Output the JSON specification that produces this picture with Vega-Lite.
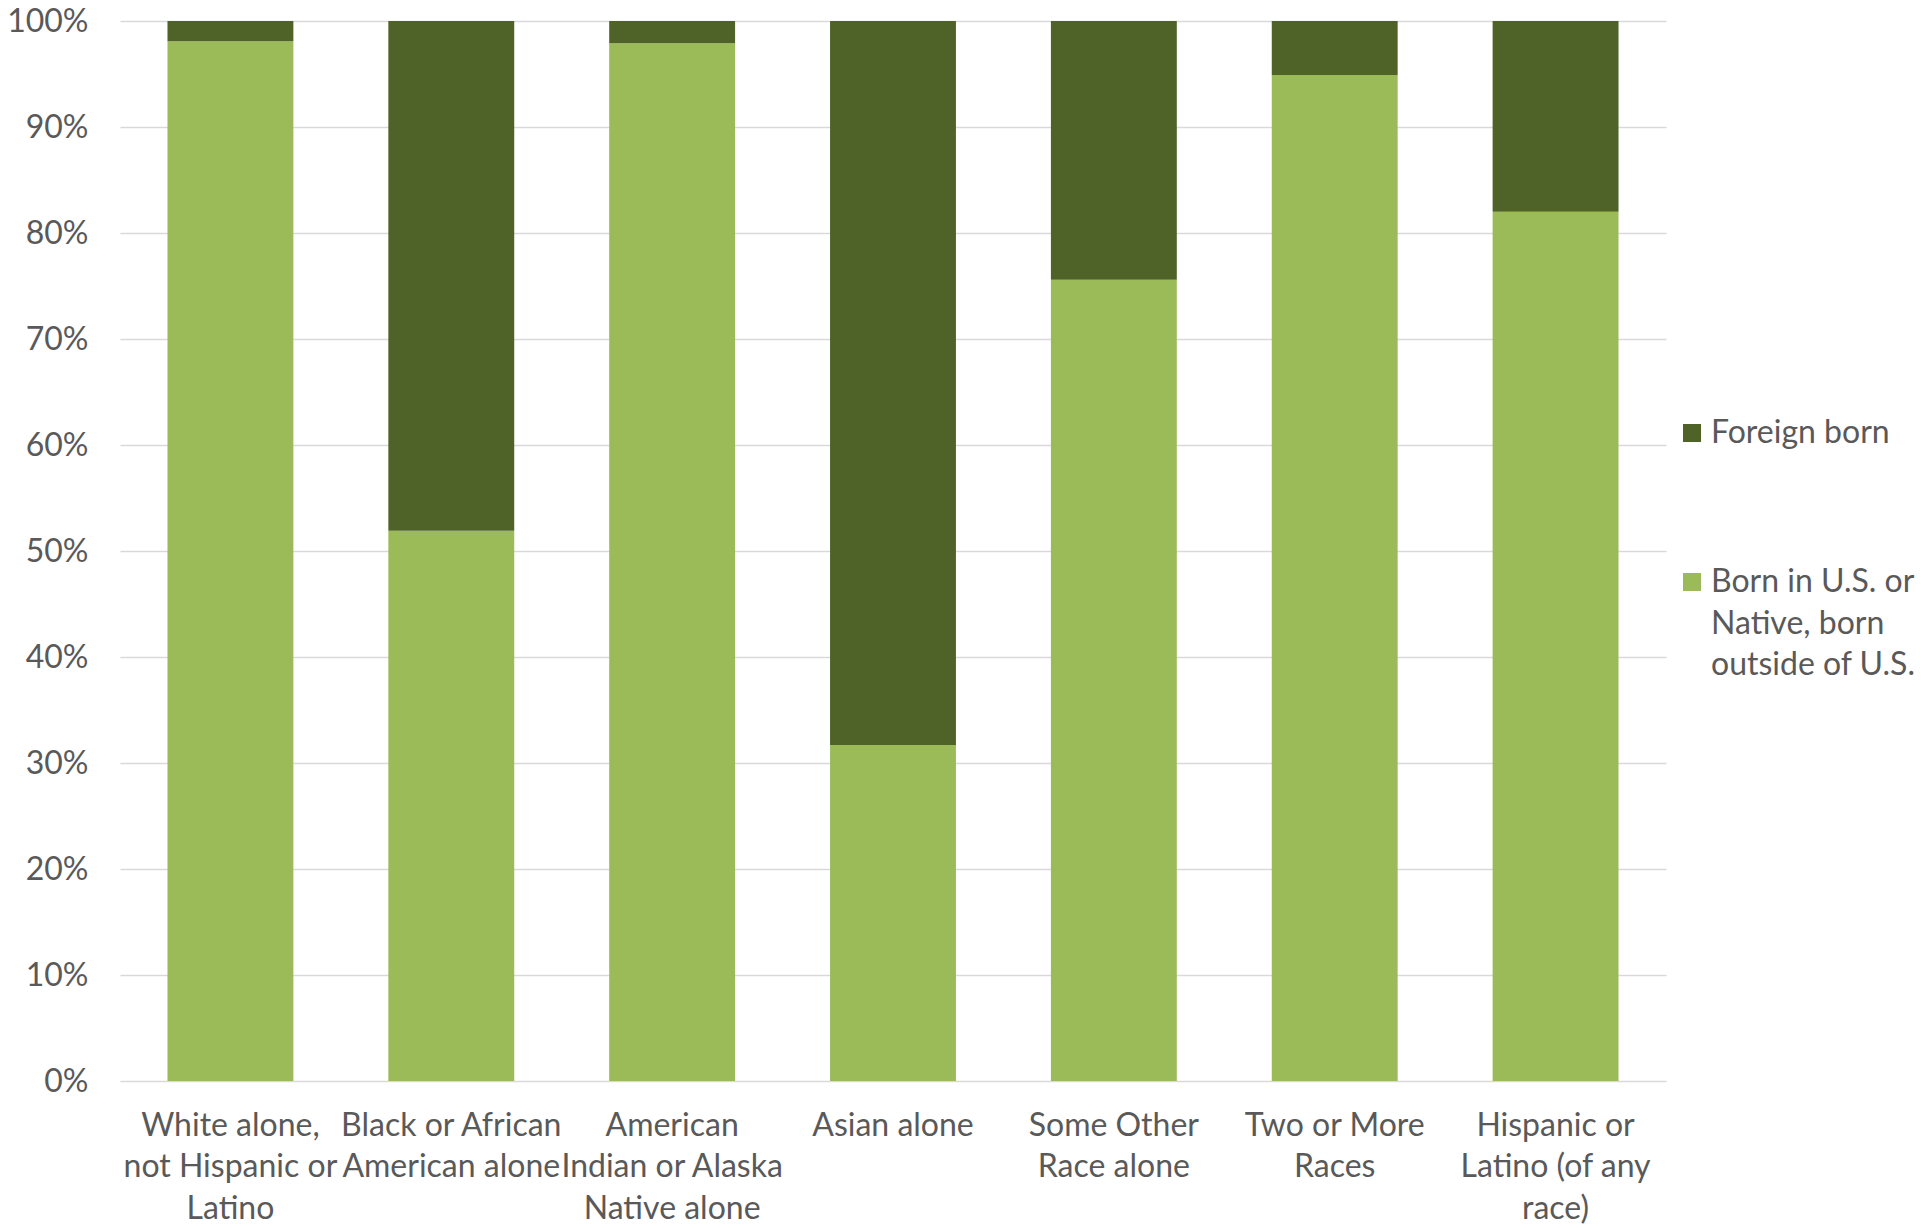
{
  "$schema": "https://vega.github.io/schema/vega-lite/v6.json",
  "width": 1546,
  "height": 1060,
  "autosize": "none",
  "padding": {"left": 120, "top": 21, "right": 255, "bottom": 147},
  "background": "white",
  "data": {
    "values": [
      {"group": "White alone,|not Hispanic or|Latino", "type": "Born in U.S. or Native, born outside of U.S.", "pct": 98.1},
      {"group": "White alone,|not Hispanic or|Latino", "type": "Foreign born", "pct": 1.9},
      {"group": "Black or African|American alone", "type": "Born in U.S. or Native, born outside of U.S.", "pct": 51.9},
      {"group": "Black or African|American alone", "type": "Foreign born", "pct": 48.1},
      {"group": "American|Indian or Alaska|Native alone", "type": "Born in U.S. or Native, born outside of U.S.", "pct": 97.9},
      {"group": "American|Indian or Alaska|Native alone", "type": "Foreign born", "pct": 2.1},
      {"group": "Asian alone", "type": "Born in U.S. or Native, born outside of U.S.", "pct": 31.7},
      {"group": "Asian alone", "type": "Foreign born", "pct": 68.3},
      {"group": "Some Other|Race alone", "type": "Born in U.S. or Native, born outside of U.S.", "pct": 75.6},
      {"group": "Some Other|Race alone", "type": "Foreign born", "pct": 24.4},
      {"group": "Two or More|Races", "type": "Born in U.S. or Native, born outside of U.S.", "pct": 94.9},
      {"group": "Two or More|Races", "type": "Foreign born", "pct": 5.1},
      {"group": "Hispanic or|Latino (of any|race)", "type": "Born in U.S. or Native, born outside of U.S.", "pct": 82.0},
      {"group": "Hispanic or|Latino (of any|race)", "type": "Foreign born", "pct": 18.0}
    ]
  },
  "mark": {"type": "bar"},
  "encoding": {
    "x": {
      "field": "group",
      "type": "nominal",
      "sort": null,
      "scale": {"paddingInner": 0.43, "paddingOuter": 0.215},
      "axis": {
        "title": null,
        "labelAngle": 0,
        "labelExpr": "split(datum.label, '|')",
        "labelFontSize": 32,
        "labelFont": "Lato",
        "labelColor": "#595959",
        "labelLineHeight": 41.6,
        "labelPadding": 29,
        "labelLimit": 0,
        "ticks": false,
        "domain": false,
        "labelBaseline": "top"
      }
    },
    "y": {
      "field": "pct",
      "type": "quantitative",
      "stack": "zero",
      "scale": {"domain": [0, 100], "nice": false},
      "axis": {
        "title": null,
        "values": [0, 10, 20, 30, 40, 50, 60, 70, 80, 90, 100],
        "labelExpr": "datum.value + '%'",
        "labelFontSize": 32,
        "labelFont": "Lato",
        "labelColor": "#595959",
        "labelPadding": 32,
        "ticks": false,
        "domain": false,
        "grid": true,
        "gridColor": "#D9D9D9",
        "gridWidth": 1.5
      }
    },
    "color": {
      "field": "type",
      "type": "nominal",
      "scale": {
        "domain": ["Foreign born", "Born in U.S. or Native, born outside of U.S."],
        "range": ["#4F6228", "#9BBB59"]
      },
      "legend": {
        "title": null,
        "orient": "none",
        "legendX": 1556,
        "legendY": 396,
        "symbolType": "square",
        "symbolSize": 324,
        "symbolStrokeWidth": 0,
        "labelFontSize": 32,
        "labelFont": "Lato",
        "labelColor": "#595959",
        "labelLimit": 0,
        "labelOffset": 3,
        "rowPadding": 117,
        "labelExpr": "datum.label == 'Foreign born' ? 'Foreign born' : ['Born in U.S. or', 'Native, born', 'outside of U.S.']",
        "encode": {"labels": {"update": {"lineHeight": {"value": 41.6}}}}
      }
    },
    "order": {"field": "type", "sort": "ascending"}
  },
  "config": {
    "view": {"stroke": null}
  }
}
